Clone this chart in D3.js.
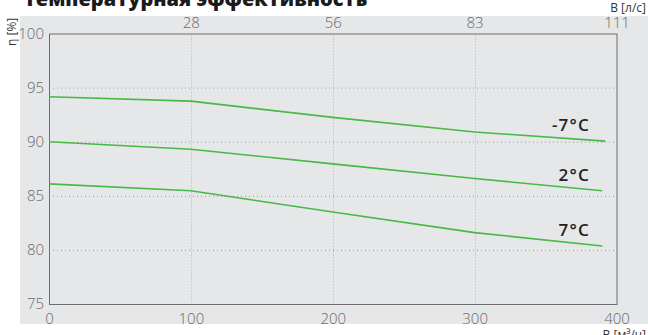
<!DOCTYPE html>
<html><head><meta charset="utf-8">
<script src="https://cdn.jsdelivr.net/npm/d3@7"></script>
<style>body{margin:0;background:#fff;}svg{display:block;}</style>
</head><body>
<svg id="c" width="648" height="335"></svg>
<script>
const title = "Температурная эффективность";
const xTicks = [0, 100, 200, 300, 400];
const yTicks = [75, 80, 85, 90, 95, 100];
const topTickLabels = ["28", "56", "83", "111"];
const topTickPos = [100, 200, 300, 400];
const seriesNames = ["-7°C", "2°C", "7°C"];
const xMinus7 = [0, 100, 200, 300, 392];
const yMinus7 = [94.15, 93.75, 92.25, 90.9, 90.05];
const x2 = [0, 100, 200, 300, 390];
const y2 = [90.0, 89.3, 87.95, 86.6, 85.47];
const x7 = [0, 100, 200, 300, 390];
const y7 = [86.1, 85.47, 83.5, 81.6, 80.36];

const svg = d3.select("#c");
const L = 49, R = 616.5, T = 33.5, B = 304;
const x = d3.scaleLinear().domain([0, 400]).range([L, R]);
const y = d3.scaleLinear().domain([75, 100]).range([B, T]);
const tickFont = "'Open Sans', sans-serif";

svg.append("rect").attr("x", 20).attr("y", 16).attr("width", 628).attr("height", 308).attr("fill", "#e6e7e9");

svg.append("text").attr("x", 24).attr("y", 6).attr("font-family", "'Open Sans', sans-serif")
  .attr("font-weight", 800).attr("font-size", 20).attr("fill", "#1a1a1a").text(title);

// grid
const g = svg.append("g");
g.selectAll(".gy").data(yTicks.filter(v => v > 75 && v < 100)).join("line")
  .attr("x1", L + 4).attr("x2", R - 2).attr("y1", d => y(d) + 0.5).attr("y2", d => y(d) + 0.5)
  .attr("stroke", "#999").attr("stroke-width", 1).attr("stroke-dasharray", "1,3");
g.selectAll(".gx").data(xTicks.filter(v => v > 0 && v < 400)).join("line")
  .attr("x1", d => Math.round(x(d)) + 0.5).attr("x2", d => Math.round(x(d)) + 0.5).attr("y1", T + 2).attr("y2", B - 1)
  .attr("stroke", "#b5b5b5").attr("stroke-width", 1).attr("stroke-dasharray", "1,2");

// frame
svg.append("rect").attr("x", L + 0.5).attr("y", T + 0.5).attr("width", R - L).attr("height", B - T)
  .attr("fill", "none").attr("stroke", "#6e6e6e").attr("stroke-width", 1);

// axes via d3
const axB = svg.append("g").attr("transform", `translate(0,${B})`)
  .call(d3.axisBottom(x).tickValues(xTicks).tickSize(0).tickPadding(9));
const axL = svg.append("g").attr("transform", `translate(${L - 3},0)`)
  .call(d3.axisLeft(y).tickValues(yTicks).tickSize(0).tickPadding(2));
const axT = svg.append("g").attr("transform", `translate(0,${T - 5})`)
  .call(d3.axisTop(x).tickValues(topTickPos).tickFormat((d, i) => topTickLabels[i]).tickSize(0).tickPadding(0));
[axB, axL, axT].forEach(a => {
  a.select(".domain").remove();
  a.selectAll("text").attr("font-family", tickFont).attr("font-weight", 300).attr("font-size", 15).attr("fill", "#6a6a6a");
});
axB.selectAll("text").attr("dy", "0.71em");
axT.selectAll("text").attr("dy", "-0.05em");

// axis titles
svg.append("text").attr("x", 646).attr("y", 12).attr("text-anchor", "end")
  .attr("font-family", tickFont).attr("font-size", 12).attr("fill", "#333").text("В [л/с]");
svg.append("text").attr("x", 646).attr("y", 339).attr("text-anchor", "end")
  .attr("font-family", tickFont).attr("font-size", 12).attr("fill", "#333").text("В [м³/ч]");
svg.append("text").attr("transform", "translate(16,46) rotate(-90)")
  .attr("font-family", tickFont).attr("font-size", 12).attr("fill", "#333").text("η [%]");

// lines
const series = [
  {name: seriesNames[0], xs: xMinus7, ys: yMinus7},
  {name: seriesNames[1], xs: x2, ys: y2},
  {name: seriesNames[2], xs: x7, ys: y7}
];
const line = d3.line().x(d => x(d[0])).y(d => y(d[1]));
series.forEach(s => {
  const pts = s.xs.map((v, i) => [v, s.ys[i]]);
  svg.append("path").attr("d", line(pts)).attr("fill", "none")
    .attr("stroke", "#46b946").attr("stroke-width", 1.6);
});

// labels
series.forEach((s, i) => {
  svg.append("text").attr("x", x(370) + 16).attr("y", y(s.ys[s.ys.length - 1]) - 10)
    .attr("text-anchor", "end").attr("font-family", "'Open Sans', sans-serif").attr("font-weight", 600)
    .attr("font-size", 17).attr("letter-spacing", 1.2).attr("fill", "#222").text(s.name);
});
</script>
</body></html>
